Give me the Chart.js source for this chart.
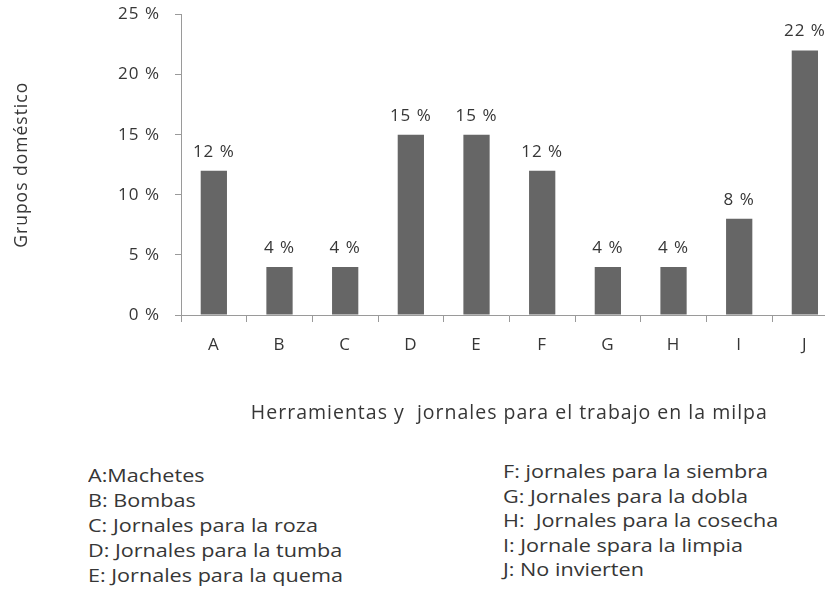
<!DOCTYPE html>
<html>
<head>
<meta charset="utf-8">
<script src="https://cdn.jsdelivr.net/npm/chart.js@4"></script>
<style>
  html, body { margin: 0; padding: 0; background: #fff; overflow: hidden; }
  #wrap { position: relative; width: 825px; height: 591px; overflow: hidden; }
  #chartBox { position: absolute; left: 0; top: 0; width: 850px; height: 440px; }
  .notes {
    position: absolute; margin: 0; padding: 0; list-style: none;
    font-family: "Open Sans", sans-serif; font-size: 18px; line-height: 25px;
    color: #363636; transform: scaleX(1.2); transform-origin: left top;
    white-space: pre;
  }
  #notesLeft { left: 88px; top: 463px; }
  #notesRight { left: 503px; top: 459px; line-height: 24.5px; }
</style>
</head>
<body>
<div id="wrap">
  <div id="chartBox"><canvas id="milpaChart"></canvas></div>
  <ul class="notes" id="notesLeft"></ul>
  <ul class="notes" id="notesRight"></ul>
</div>
<script>
// data
const categories = ['A', 'B', 'C', 'D', 'E', 'F', 'G', 'H', 'I', 'J'];
const percentages = [12, 4, 4, 15, 15, 12, 4, 4, 8, 22];
const yTicks = [0, 5, 10, 15, 20, 25];
const yTitle = 'Grupos doméstico';
const xTitle = 'Herramientas y  jornales para el trabajo en la milpa';
const notesLeft = [
  'A:Machetes',
  'B: Bombas',
  'C: Jornales para la roza',
  'D: Jornales para la tumba',
  'E: Jornales para la quema'
];
const notesRight = [
  'F: jornales para la siembra',
  'G: Jornales para la dobla',
  'H:  Jornales para la cosecha',
  'I: Jornale spara la limpia',
  'J: No invierten'
];

const textColor = '#363636';
const axisColor = '#9a9a9a';

function fillNotes(id, lines) {
  const ul = document.getElementById(id);
  lines.forEach(t => {
    const li = document.createElement('li');
    li.textContent = t;
    ul.appendChild(li);
  });
}
fillNotes('notesLeft', notesLeft);
fillNotes('notesRight', notesRight);

// the original text is drawn a bit wide, so space the letters out
const wideText = {
  id: 'wideText',
  beforeDraw(chart) {
    chart.ctx.letterSpacing = '1px';
  }
};

// value labels over each bar
const barLabels = {
  id: 'barLabels',
  afterDatasetsDraw(chart) {
    const ctx = chart.ctx;
    const meta = chart.getDatasetMeta(0);
    ctx.save();
    ctx.font = '17px "Open Sans", sans-serif';
    ctx.fillStyle = textColor;
    ctx.textAlign = 'center';
    ctx.textBaseline = 'middle';
    meta.data.forEach((bar, i) => {
      ctx.fillText(percentages[i] + ' %', bar.x, bar.y - 19);
    });
    ctx.restore();
  }
};

const ctx = document.getElementById('milpaChart').getContext('2d');
new Chart(ctx, {
  type: 'bar',
  data: {
    labels: categories,
    datasets: [{
      data: percentages,
      backgroundColor: '#666666',
      borderWidth: 0,
      barPercentage: 0.4,
      categoryPercentage: 1
    }]
  },
  options: {
    responsive: true,
    maintainAspectRatio: false,
    animation: false,
    layout: { padding: { top: 14.5, right: 12.3, bottom: 0, left: 0 } },
    plugins: {
      legend: { display: false },
      tooltip: { enabled: false }
    },
    scales: {
      x: {
        grid: {
          offset: true,
          drawOnChartArea: false,
          drawTicks: true,
          tickLength: 7,
          color: axisColor
        },
        border: { color: axisColor, width: 1 },
        ticks: {
          color: textColor,
          padding: 13,
          font: { family: '"Open Sans", sans-serif', size: 17 }
        },
        title: {
          display: true,
          text: xTitle,
          color: textColor,
          font: { family: '"Open Sans", sans-serif', size: 19.5 },
          padding: { top: 0, bottom: 15 }
        },
        afterFit(scale) { scale.height = 125; }
      },
      y: {
        min: 0,
        max: 25,
        afterBuildTicks(scale) {
          scale.ticks = yTicks.map(v => ({ value: v }));
        },
        grid: {
          drawOnChartArea: false,
          drawTicks: true,
          tickLength: 6,
          color: axisColor
        },
        border: { color: axisColor, width: 1 },
        ticks: {
          color: textColor,
          padding: 15,
          font: { family: '"Open Sans", sans-serif', size: 17 },
          callback: v => v + ' %'
        },
        title: {
          display: true,
          text: yTitle,
          color: textColor,
          font: { family: '"Open Sans", sans-serif', size: 17.5 },
          padding: { top: 12, bottom: 0 }
        },
        afterFit(scale) {
          scale.width = 181;
          scale.paddingTop = 0;
          scale.paddingBottom = 0;
        }
      }
    }
  },
  plugins: [wideText, barLabels]
});
</script>
</body>
</html>
